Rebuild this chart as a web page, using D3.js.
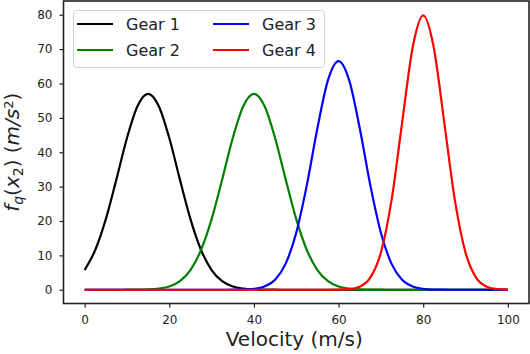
<!DOCTYPE html>
<html>
<head>
<meta charset="utf-8">
<script src="https://d3js.org/d3.v7.min.js"></script>
<style>
  body { margin: 0; background: #fff; }
  text { font-family: "DejaVu Sans", sans-serif; }
</style>
</head>
<body>
<div id="graph-area"></div>
<script>

// velocity samples (m/s)
const velocity = d3.range(0, 100.01, 2.5);

// f_q(x_2), one value per velocity sample
const gear1 = [5.74, 11.57, 20.54, 32.11, 44.16, 53.48, 57.0, 53.48, 44.16, 32.11,
               20.54, 11.57, 5.74, 2.50, 0.96, 0.33, 0.10, 0.03, 0.01, 0,
               0, 0, 0, 0, 0, 0, 0, 0, 0, 0,
               0, 0, 0, 0, 0, 0, 0, 0, 0, 0, 0];
const gear2 = [0, 0, 0, 0, 0.01, 0.03, 0.10, 0.33, 0.96, 2.50,
               5.74, 11.57, 20.54, 32.11, 44.16, 53.48, 57.0, 53.48, 44.16, 32.11,
               20.54, 11.57, 5.74, 2.50, 0.96, 0.33, 0.10, 0.03, 0.01, 0,
               0, 0, 0, 0, 0, 0, 0, 0, 0, 0, 0];
const gear3 = [0, 0, 0, 0, 0, 0, 0, 0, 0, 0,
               0, 0, 0, 0, 0.01, 0.06, 0.26, 0.95, 2.92, 7.59,
               16.59, 30.44, 46.99, 60.97, 66.5, 60.97, 46.99, 30.44, 16.59, 7.59,
               2.92, 0.95, 0.26, 0.06, 0.01, 0, 0, 0, 0, 0, 0];
const gear4 = [0, 0, 0, 0, 0, 0, 0, 0, 0, 0,
               0, 0, 0, 0, 0, 0, 0, 0, 0, 0,
               0, 0, 0, 0, 0.03, 0.17, 0.89, 3.51, 10.80, 25.91,
               48.40, 70.42, 79.8, 70.42, 48.40, 25.91, 10.80, 3.51, 0.89, 0.17, 0.03];

const gearNames = ["Gear 1", "Gear 2", "Gear 3", "Gear 4"];
const xTicks = [0, 20, 40, 60, 80, 100];
const yTicks = [0, 10, 20, 30, 40, 50, 60, 70, 80];

const colors = ["#000000", "#008000", "#0000ff", "#ff0000"];
const series = [gear1, gear2, gear3, gear4];

const w = 530;
const h = 354;
const pLeft = 63.5, pRight = 529, pTop = 1, pBottom = 303.5;

const xScale = d3.scaleLinear().domain([-5, 105]).range([pLeft, pRight]);
const yScale = d3.scaleLinear().domain([-4, 84]).range([pBottom, pTop]);

const svg = d3.select("#graph-area").append("svg")
              .attr("width", w)
              .attr("height", h);

const line = d3.line()
               .x((d, i) => xScale(velocity[i]))
               .y(d => yScale(d))
               .curve(d3.curveMonotoneX);

svg.selectAll("path.gear")
   .data(series)
   .enter()
   .append("path")
   .attr("class", "gear")
   .attr("d", line)
   .attr("fill", "none")
   .attr("stroke", (d, i) => colors[i])
   .attr("stroke-width", 2.2);

// axes
const xAxis = d3.axisBottom(xScale).tickValues(xTicks).tickSize(4).tickPadding(8);
const yAxis = d3.axisLeft(yScale).tickValues(yTicks).tickSize(4).tickPadding(7);

const gx = svg.append("g")
   .attr("transform", "translate(0," + pBottom + ")")
   .call(xAxis);
const gy = svg.append("g")
   .attr("transform", "translate(" + pLeft + ",0)")
   .call(yAxis);

[gx, gy].forEach(g => {
  g.select(".domain").remove();
  g.selectAll(".tick line").attr("stroke", "#222").attr("stroke-width", 1.2);
  g.selectAll(".tick text").attr("fill", "#222").style("font-size", "12px")
   .style("font-family", "DejaVu Sans");
});

// frame
svg.append("rect")
   .attr("x", pLeft)
   .attr("y", pTop)
   .attr("width", pRight - pLeft)
   .attr("height", pBottom - pTop)
   .attr("fill", "none")
   .attr("stroke", "#222")
   .attr("stroke-width", 1.6);

// x axis title
svg.append("text")
   .attr("x", (pLeft + pRight) / 2 - 2)
   .attr("y", 346)
   .style("text-anchor", "middle")
   .style("font-size", "20px")
   .attr("fill", "#222")
   .text("Velocity (m/s)");

// y axis title
const yt = svg.append("text")
   .attr("transform", "rotate(-90)")
   .attr("x", -(pTop + pBottom) / 2)
   .attr("y", 19)
   .style("text-anchor", "middle")
   .style("font-size", "20px")
   .attr("fill", "#222");
yt.append("tspan").style("font-style", "italic").text("f");
yt.append("tspan").style("font-style", "italic").style("font-size", "14px").attr("dy", 4).text("q");
yt.append("tspan").attr("dy", -4).text("(");
yt.append("tspan").style("font-style", "italic").text("x");
yt.append("tspan").style("font-size", "14px").attr("dy", 4).text("2");
yt.append("tspan").attr("dy", -4).text(")\u00a0(");
yt.append("tspan").style("font-style", "italic").text("m/s");
yt.append("tspan").style("font-size", "13px").attr("dy", -6).text("2");
yt.append("tspan").attr("dy", 6).text(")");

// legend
const legend = svg.append("g");
legend.append("rect")
   .attr("x", 73.5).attr("y", 10.5)
   .attr("width", 251).attr("height", 57)
   .attr("rx", 3)
   .attr("fill", "#fff").attr("fill-opacity", 0.8)
   .attr("stroke", "#d0d0d0");

const items = legend.selectAll("g.item")
   .data(gearNames)
   .enter()
   .append("g")
   .attr("class", "item")
   .attr("transform", (d, i) => "translate(" + (i < 2 ? 77 : 213) + "," + (i % 2 === 0 ? 24 : 50) + ")");

items.append("line")
   .attr("x1", 0).attr("x2", 36)
   .attr("stroke", (d, i) => colors[i])
   .attr("stroke-width", 2.2);

items.append("text")
   .attr("x", 49)
   .attr("dy", "0.36em")
   .style("font-size", "16px")
   .attr("fill", "#222")
   .text(d => d);

</script>
</body>
</html>
